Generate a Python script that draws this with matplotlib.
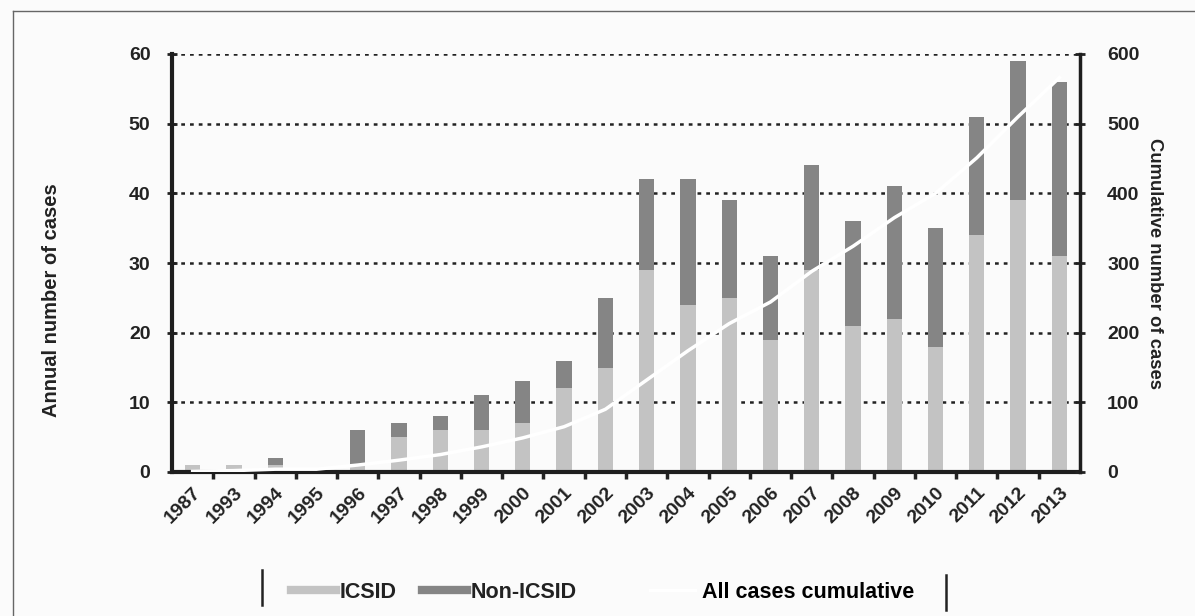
import matplotlib
matplotlib.use("Agg")
from matplotlib import pyplot as plt
from matplotlib import font_manager
from matplotlib.lines import Line2D
import numpy as np

years = ["1987", "1993", "1994", "1995", "1996", "1997", "1998", "1999", "2000", "2001", "2002",
         "2003", "2004", "2005", "2006", "2007", "2008", "2009", "2010", "2011", "2012", "2013"]
icsid = [1, 1, 1, 0, 1, 5, 6, 6, 7, 12, 15, 29, 24, 25, 19, 29, 21, 22, 18, 34, 39, 31]
non_icsid = [0, 0, 1, 0, 5, 2, 2, 5, 6, 4, 10, 13, 18, 14, 12, 15, 15, 19, 17, 17, 20, 25]
cumulative = [1, 2, 4, 4, 10, 17, 25, 36, 49, 65, 90, 132, 174, 213, 244, 288, 324, 365, 400,
              451, 510, 566]

light = "#c3c3c3"
dark = "#858585"
ink = "#222222"
paper = "#fbfbfb"

names = {f.name for f in font_manager.fontManager.ttflist}
narrow = "Liberation Sans Narrow" if "Liberation Sans Narrow" in names else "Liberation Sans"
plt.rcParams["font.family"] = ["Liberation Sans", "DejaVu Sans"]

W, H = 1195, 616
fig = plt.figure(figsize=(W / 100, H / 100), dpi=100, facecolor=paper)
ax = fig.add_axes([172 / W, 1 - 472 / H, 908 / W, 418 / H])
ax.set_facecolor("none")

x = np.arange(len(years))
ax.bar(x, icsid, width=0.37, color=light, zorder=2)
ax.bar(x, non_icsid, width=0.37, bottom=icsid, color=dark, zorder=2)

ax.set_xlim(-0.5, len(years) - 0.5)
ax.set_ylim(0, 60)
ax.set_yticks(range(0, 61, 10))
ax.yaxis.grid(True, color=ink, linestyle=(0, (1.5, 2.0)), linewidth=1.8)
ax.set_axisbelow(True)

ax.set_xticks(x)
ax.set_xticklabels(years, rotation=45, ha="right", rotation_mode="anchor")
ax.set_xticks(x[:-1] + 0.5, minor=True)
ax.tick_params(axis="x", which="major", length=0, pad=9)
ax.tick_params(axis="x", which="minor", direction="out", length=5, width=2.5, color=ink)
ax.tick_params(axis="y", direction="inout", length=7, width=2, color=ink, pad=12)
for lab in ax.get_xticklabels() + ax.get_yticklabels():
    lab.set_fontsize(14)
    lab.set_fontweight("bold")
    lab.set_color(ink)

for s in ["left", "bottom"]:
    ax.spines[s].set_linewidth(3)
    ax.spines[s].set_color("#1e1e1e")
ax.spines["top"].set_visible(False)
ax.spines["right"].set_visible(False)

ax2 = ax.twinx()
ax2.plot(x, cumulative, color="white", linewidth=2.5, zorder=5)
ax2.set_ylim(0, 600)
ax2.set_yticks(range(0, 601, 100))
ax2.tick_params(axis="y", direction="inout", length=7, width=2, color=ink, pad=16)
for lab in ax2.get_yticklabels():
    lab.set_fontsize(14)
    lab.set_fontweight("bold")
    lab.set_color(ink)
ax2.spines["right"].set_linewidth(2.5)
ax2.spines["right"].set_color("#1e1e1e")
for s in ["left", "top", "bottom"]:
    ax2.spines[s].set_visible(False)

is_narrow = narrow != "Liberation Sans"
fig.text(52 / W, 1 - 300 / H, "Annual number of cases", rotation=90, ha="center", va="center",
         fontsize=17 if is_narrow else 14.5, fontweight="bold",
         family=[narrow, "DejaVu Sans"], color=ink)
fig.text(1155 / W, 1 - 263 / H, "Cumulative number of cases", rotation=270, ha="center",
         va="center", fontsize=16 if is_narrow else 13.3, fontweight="bold",
         family=[narrow, "DejaVu Sans"], color=ink)

# legend: bar entries, then the (white) cumulative line entry further right
leg1 = fig.legend([Line2D([0], [0], color=light, lw=6), Line2D([0], [0], color=dark, lw=6)],
                  ["ICSID", "Non-ICSID"], loc="center left", bbox_to_anchor=(291 / W, 1 - 592 / H),
                  ncol=2, frameon=False, borderpad=0, borderaxespad=0,
                  prop={"size": 15.5, "weight": "bold"},
                  handlelength=2.1, handletextpad=0.15, columnspacing=1.2)
fig.legend([Line2D([0], [0], color="white", lw=2.5)], ["All cases cumulative"], loc="center left",
           bbox_to_anchor=(650 / W, 1 - 592 / H), frameon=False, borderpad=0, borderaxespad=0,
           prop={"size": 15.5, "weight": "bold"}, handlelength=2.1, handletextpad=0.3)
for t in leg1.get_texts():
    t.set_color(ink)

# legend side bars and scan frame
fig.add_artist(Line2D([262 / W, 262 / W], [1 - 570 / H, 1 - 605 / H], color=ink, lw=1.8))
fig.add_artist(Line2D([946 / W, 946 / W], [1 - 575 / H, 1 - 610 / H], color=ink, lw=1.8))
fig.add_artist(Line2D([13 / W, 13 / W], [1 - 11 / H, 0], color="#666666", lw=1))
fig.add_artist(Line2D([13 / W, 1], [1 - 11 / H, 1 - 11 / H], color="#666666", lw=1))

fig.savefig("out.png", dpi=100, facecolor=fig.get_facecolor())
